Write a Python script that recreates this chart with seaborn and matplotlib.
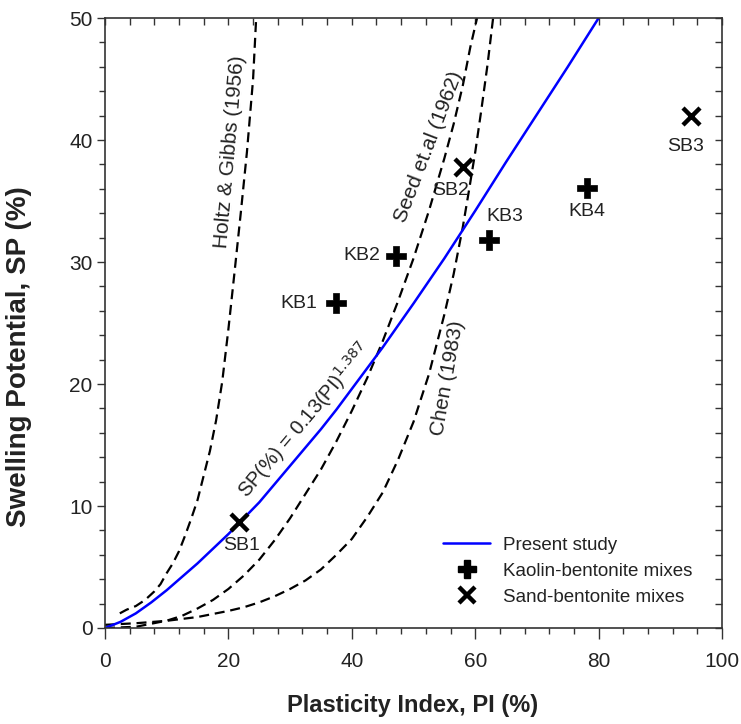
import matplotlib
matplotlib.use("Agg")
import matplotlib.pyplot as plt
import seaborn as sns
import pandas as pd
from matplotlib.lines import Line2D

# ---------------- data ----------------
present_pi = [0, 2.5, 5, 7.5, 10, 12.5, 15, 17.5, 20, 22.5, 25, 27.5, 30, 32.5, 35,
              37.5, 40, 42.5, 45, 47.5, 50, 55, 60, 65, 70, 75, 80]
present_sp = [0, 0.5, 1.2, 2.1, 3.1, 4.2, 5.3, 6.5, 7.7, 9.0, 10.3, 11.8, 13.3, 14.8, 16.3,
              17.9, 19.6, 21.3, 23.0, 24.8, 26.6, 30.3, 34.2, 38.2, 42.1, 46.0, 50.0]

holtz_pi = [2.4, 3.5, 5, 6.5, 8, 9, 10, 11, 12, 13, 14, 15, 16, 17, 18, 19, 20, 21, 22, 23, 24, 24.5]
holtz_sp = [1.2, 1.5, 1.8, 2.3, 3.0, 3.6, 4.5, 5.3, 6.3, 7.6, 9.0, 10.5, 12.5, 14.5, 17.0,
            20.2, 24.5, 29.2, 34.0, 39.0, 45.0, 50.0]

seed_pi = [0, 5, 10, 12.5, 15, 17.5, 20, 22.5, 25, 27.5, 30, 32.5, 35, 37.5, 40, 42.5,
           45, 47.5, 50, 52.5, 55, 56.5, 58, 59.2, 60.3]
seed_sp = [0, 0.1, 0.6, 1.0, 1.6, 2.3, 3.2, 4.3, 5.6, 7.2, 9.0, 11.0, 13.0, 15.3, 17.8, 20.5,
           23.5, 26.8, 30.3, 34.2, 38.5, 41.3, 44.5, 47.6, 50.0]

chen_pi = [0, 5, 10, 15, 20, 22.5, 25, 27.5, 30, 32.5, 35, 37.5, 40, 42.5, 45, 47.5, 50,
           52.5, 55, 56.5, 58, 59, 60, 61, 62, 62.9]
chen_sp = [0.26, 0.39, 0.59, 0.9, 1.4, 1.7, 2.1, 2.6, 3.2, 3.9, 4.8, 6.0, 7.3, 9.1, 11.1,
           13.8, 16.9, 20.8, 25.7, 29.0, 32.9, 35.9, 39.0, 42.5, 46.2, 50.0]

kb_names = ["KB1", "KB2", "KB3", "KB4"]
kb_pi = [37.4, 47.2, 62.2, 78.1]
kb_sp = [26.6, 30.5, 31.8, 36.1]

sb_names = ["SB1", "SB2", "SB3"]
sb_pi = [21.7, 58.0, 95.0]
sb_sp = [8.7, 37.8, 42.0]

x_ticks = [0, 20, 40, 60, 80, 100]
y_ticks = [0, 10, 20, 30, 40, 50]

# ---------------- style ----------------
sns.set_theme(style="white")
plt.rcParams["font.family"] = ["Liberation Sans", "DejaVu Sans"]
txt_color = "#222222"
ax_color = "#333333"

fig = plt.figure(figsize=(7.41, 7.24), dpi=100)
ax = fig.add_axes([0.1417, 0.1326, 0.8327, 0.8425])

dash = (4.5, 2.6)
for xs, ys in [(holtz_pi, holtz_sp), (seed_pi, seed_sp), (chen_pi, chen_sp)]:
    df = pd.DataFrame({"PI": xs, "SP": ys})
    sns.lineplot(data=df, x="PI", y="SP", ax=ax, color="black", lw=1.6,
                 estimator=None, sort=False)
    ax.lines[-1].set_dashes(dash)

df_p = pd.DataFrame({"PI": present_pi, "SP": present_sp})
sns.lineplot(data=df_p, x="PI", y="SP", ax=ax, color="#0000ff", lw=1.8,
             estimator=None, sort=False)

df_kb = pd.DataFrame({"PI": kb_pi, "SP": kb_sp})
sns.scatterplot(data=df_kb, x="PI", y="SP", ax=ax, marker="P", s=190,
                color="black", edgecolor="black", linewidth=0.5, zorder=5)
df_sb = pd.DataFrame({"PI": sb_pi, "SP": sb_sp})
sns.scatterplot(data=df_sb, x="PI", y="SP", ax=ax, marker="x", s=150,
                color="black", linewidth=3.2, zorder=5)

# point labels (offsets in points)
kb_off = [(-13, 0, "right", "center"), (-11.5, 0, "right", "center"),
          (-2, 17, "left", "center"), (0, -17, "center", "center")]
for n, x, y, (dx, dy, ha, va) in zip(kb_names, kb_pi, kb_sp, kb_off):
    ax.annotate(n, (x, y), xytext=(dx, dy), textcoords="offset points",
                ha=ha, va=va, fontsize=14, color=txt_color)
sb_off = [(2, -17), (-9, -17), (-4, -22)]
for n, x, y, (dx, dy) in zip(sb_names, sb_pi, sb_sp, sb_off):
    ax.annotate(n, (x, y), xytext=(dx, dy), textcoords="offset points",
                ha="center", va="center", fontsize=14, color=txt_color)

# curve labels
ax.text(20.3, 39.0, "Holtz & Gibbs (1956)", rotation=85, ha="center", va="center",
        fontsize=15, color=txt_color, rotation_mode="anchor")
ax.text(52.5, 39.4, "Seed et.al (1962)", rotation=69, ha="center", va="center",
        fontsize=15, color=txt_color, rotation_mode="anchor")
ax.text(55.6, 20.5, "Chen (1983)", rotation=80, ha="center", va="center",
        fontsize=15, color=txt_color, rotation_mode="anchor")
ax.text(32.3, 17.0, r"SP(%) = 0.13(PI)$^{1.387}$", rotation=50, ha="center",
        va="center", fontsize=14.5, color=txt_color, rotation_mode="anchor")

# axes
ax.set_xlim(0, 100)
ax.set_ylim(0, 50)
ax.set_xticks(x_ticks)
ax.set_yticks(y_ticks)
ax.set_xticks(range(0, 101, 4), minor=True)
ax.set_yticks(range(0, 51, 2), minor=True)
ax.tick_params(bottom=True, left=True, top=False, right=False, which="both")
ax.tick_params(axis="x", which="major", direction="out", length=8, width=1,
               color=ax_color, labelsize=15, labelcolor=txt_color, pad=9.5)
ax.tick_params(axis="y", which="major", direction="out", length=6, width=1,
               color=ax_color, labelsize=15, labelcolor=txt_color, pad=3)
ax.tick_params(axis="x", which="minor", direction="out", length=4.5, width=1, color=ax_color)
ax.tick_params(axis="y", which="minor", direction="out", length=4, width=1, color=ax_color)
for s in ax.spines.values():
    s.set_color(ax_color)
    s.set_linewidth(1.2)

top = ax.secondary_xaxis("top")
top.set_xticks(range(0, 101, 4))
top.tick_params(direction="in", length=5, width=1, color=ax_color, labeltop=False)
top.spines["top"].set_visible(False)
right = ax.secondary_yaxis("right")
right.set_yticks(range(0, 51, 2))
right.tick_params(direction="in", length=5, width=1, color=ax_color, labelright=False)
right.spines["right"].set_visible(False)

ax.set_xlabel("Plasticity Index, PI (%)", fontsize=17, fontweight="bold", color=txt_color)
ax.set_ylabel("Swelling Potential, SP (%)", fontsize=20, fontweight="bold", color=txt_color)
ax.xaxis.set_label_coords(0.499, -0.108)
ax.yaxis.set_label_coords(-0.119, 0.445)

handles = [Line2D([], [], color="#0000ff", lw=1.8),
           Line2D([], [], color="black", marker="P", ls="", markersize=13),
           Line2D([], [], color="black", marker="x", ls="", markersize=11, mew=3.2)]
labels = ["Present study", "Kaolin-bentonite mixes", "Sand-bentonite mixes"]
leg = ax.legend(handles, labels, loc="lower left", bbox_to_anchor=(0.548, 0.036),
                frameon=False, fontsize=13.5, handlelength=2.5, labelspacing=0.48,
                handletextpad=0.7, borderpad=0, borderaxespad=0)
for t in leg.get_texts():
    t.set_color(txt_color)

fig.savefig("out.png", dpi=100)
